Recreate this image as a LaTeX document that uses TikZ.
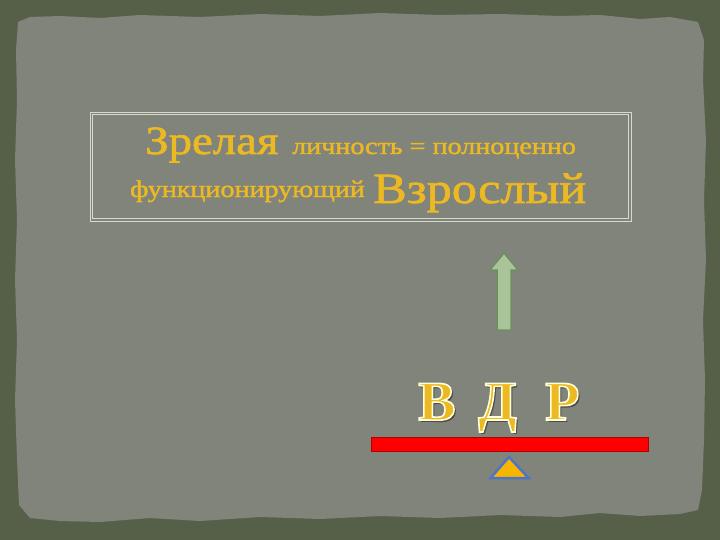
\documentclass[tikz,border=0pt]{standalone}
\usepackage{fontspec}
\setmainfont{Liberation Serif}
\newfontfamily\titlefont[FakeStretch=1.17,FakeBold=1.6]{Liberation Serif}
\definecolor{outerbg}{HTML}{566049}
\definecolor{innerbg}{HTML}{80847A}
\definecolor{gold}{HTML}{EDB923}
\definecolor{boxline}{HTML}{D6DACB}
\definecolor{arrowfill}{HTML}{A9C49A}
\definecolor{arrowline}{HTML}{6F8F5F}
\definecolor{triline}{HTML}{4F74C4}
\definecolor{trifill}{HTML}{F7B500}
\definecolor{bardark}{HTML}{B00000}
\newcommand\glowlet[1]{\rlap{\kern2.2pt\raisebox{-2.2pt}{\color{black!70}#1}}{\color{gold}\special{pdf:literal direct 1 1 0.85 RG 1.6 w 2 Tr}#1\special{pdf:literal direct 0 Tr}}}
\begin{document}
\begin{tikzpicture}[x=1pt,y=-1pt,
  bigword/.style={text=gold,font=\titlefont\fontsize{40}{40}\selectfont,anchor=base west,inner sep=0pt},
  smallword/.style={text=gold,font=\titlefont\fontsize{24}{24}\selectfont,anchor=base west,inner sep=0pt},
  letterfont/.style={font=\fontsize{56}{56}\selectfont\bfseries,anchor=base west,inner sep=0pt}]
\useasboundingbox (0,0) rectangle (720,540);
\fill[outerbg] (0,0) rectangle (720,540);
% ragged inner panel
\fill[innerbg] (18,22) -- (30,17) -- (60,16) -- (100,18) -- (140,15) -- (200,17) -- (260,14) -- (320,16) -- (380,13) -- (440,15) -- (500,14) -- (560,16) -- (600,15) -- (640,19) -- (670,17) -- (698,22) -- (704,40)
  -- (703,80) -- (706,140) -- (704,200) -- (706,260) -- (703,320) -- (705,380) -- (704,440) -- (702,490) -- (698,510) -- (680,514) -- (640,516) -- (600,513) -- (560,517) -- (500,515) -- (440,518) -- (380,516) -- (320,519) -- (260,517) -- (200,521) -- (150,518) -- (100,522) -- (60,521) -- (30,518) -- (19,505)
  -- (17,460) -- (15,400) -- (17,340) -- (15,280) -- (17,220) -- (15,160) -- (17,100) -- (16,50) -- cycle;
% title frame (double line)
\draw[boxline,line width=0.6pt] (90,112) rectangle (631,221);
\draw[boxline,line width=0.6pt] (92.5,114.5) rectangle (628.5,218.5);
% title text
\node[bigword] (w1) at (145,154) {Зрелая};
\node[smallword] (w2) at (292,154) {личность = полноценно};
\node[smallword] (w3) at (130,197) {функционирующий};
\node[bigword,font=\titlefont\fontsize{43}{43}\selectfont] (w4) at (373,203) {Взрослый};
% up arrow
\filldraw[fill=arrowfill,draw=arrowline,line width=1.5pt,line join=miter]
  (497,330) -- (497,270) -- (490,270) -- (504,253) -- (518,270) -- (511,270) -- (511,330) -- cycle;
% letters
\node[letterfont] (lb) at (418,420) {\glowlet{В}};
\node[letterfont] (ld) at (478,420) {\glowlet{Д}};
\node[letterfont] (lr) at (545,420) {\glowlet{Р}};
% balance bar
\filldraw[fill=red,draw=bardark,line width=1pt] (371,437) rectangle (648,451);
% fulcrum
\filldraw[fill=trifill,draw=triline,line width=2.5pt,line join=miter] (509,457) -- (528.5,478) -- (490.5,478) -- cycle;
\end{tikzpicture}
\end{document}
